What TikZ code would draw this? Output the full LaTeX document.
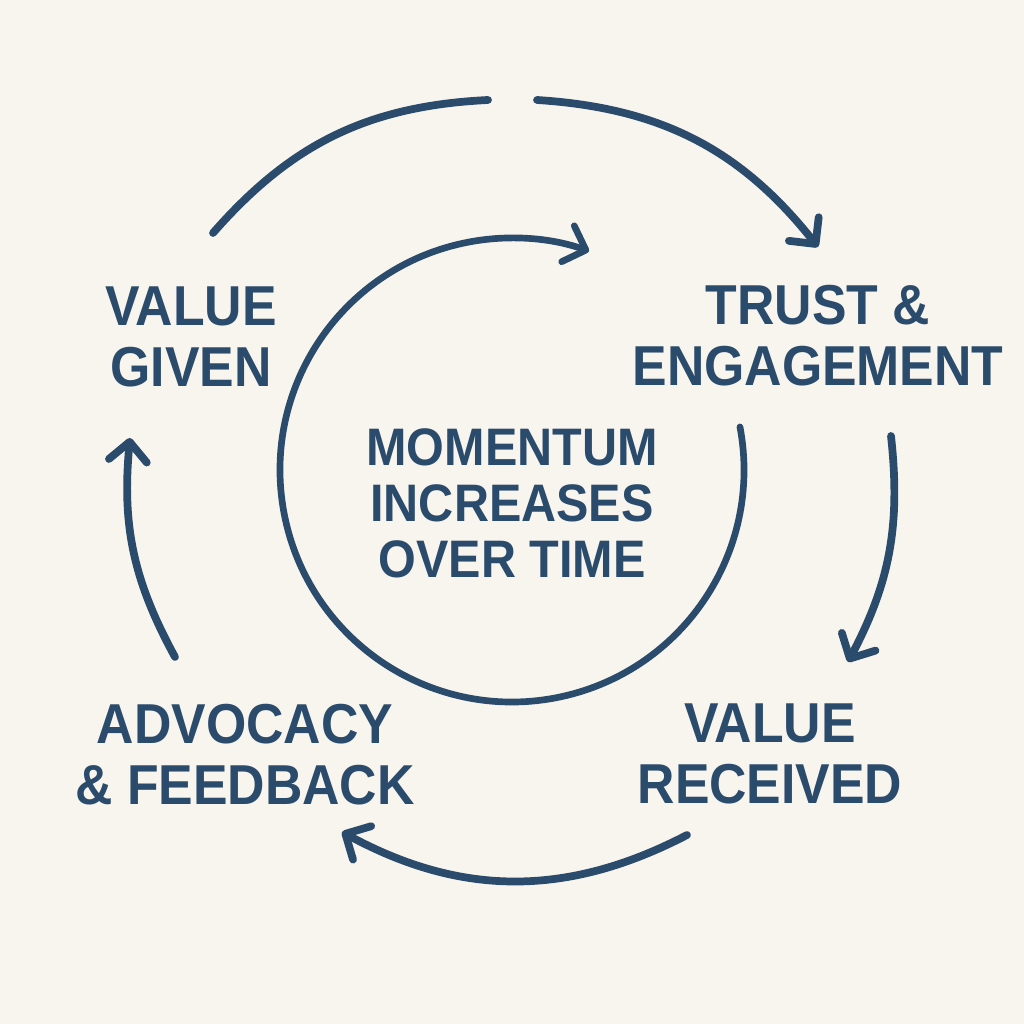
\documentclass[tikz,border=0pt]{standalone}
\usepackage{fontspec}
\setmainfont{Liberation Sans}[FakeStretch=0.92]
\usetikzlibrary{arrows.meta,backgrounds}
\definecolor{ink}{HTML}{2A4B6B}
\definecolor{paper}{HTML}{F8F4EE}

\begin{document}
\begin{tikzpicture}[x=0.01cm,y=0.01cm]
\tikzstyle{stage}=[text=ink,align=center,inner sep=0pt,font=\fontsize{16}{17.4}\selectfont\bfseries]
\tikzstyle{hubtext}=[stage,font=\fontsize{15}{15.9}\selectfont\bfseries]
\tikzstyle{flow}=[draw=ink,line width=2.2pt,line cap=round,-{Straight Barb[length=0.19cm,width=0.38cm,round]}]
\tikzstyle{spin}=[flow,line width=1.9pt]

\fill[paper] (0,0) rectangle (1024,1024);
\useasboundingbox (0,0) rectangle (1024,1024);

% stages
\node[stage] (given) at (191,687) {VALUE\\GIVEN};
\node[stage] (trust) at (818,688) {TRUST \&\\ENGAGEMENT};
\node[stage] (received) at (770,270) {VALUE\\RECEIVED};
\node[stage] (advocacy) at (245,269) {ADVOCACY\\\& FEEDBACK};
\node[hubtext] (momentum) at (512,521) {MOMENTUM\\INCREASES\\OVER TIME};

% arrow ends
\coordinate (vg1) at (213,791);
\coordinate (vg2) at (488,924);
\coordinate (te1) at (537,924);
\coordinate (te2) at (818,777);
\coordinate (tr1) at (891,588);
\coordinate (tr2) at (848,362);
\coordinate (rv1) at (687,189);
\coordinate (rv2) at (342,192);
\coordinate (ad1) at (175,367);
\coordinate (ad2) at (130,586);
\coordinate (hub) at (512,554);

\draw[flow,-] (vg1) to[bend left=23] (vg2);
\draw[flow] (te1) to[bend left=24] (te2);
\draw[flow] (tr1) to[bend left=17] (tr2);
\draw[flow] (rv1) to[bend left=28] (rv2);
\draw[flow] (ad1) to[bend left=17] (ad2);

% inner loop
\draw[spin] (hub) ++(10.7:232) arc[start angle=10.7,end angle=-289.4,radius=232];
\end{tikzpicture}
\end{document}
